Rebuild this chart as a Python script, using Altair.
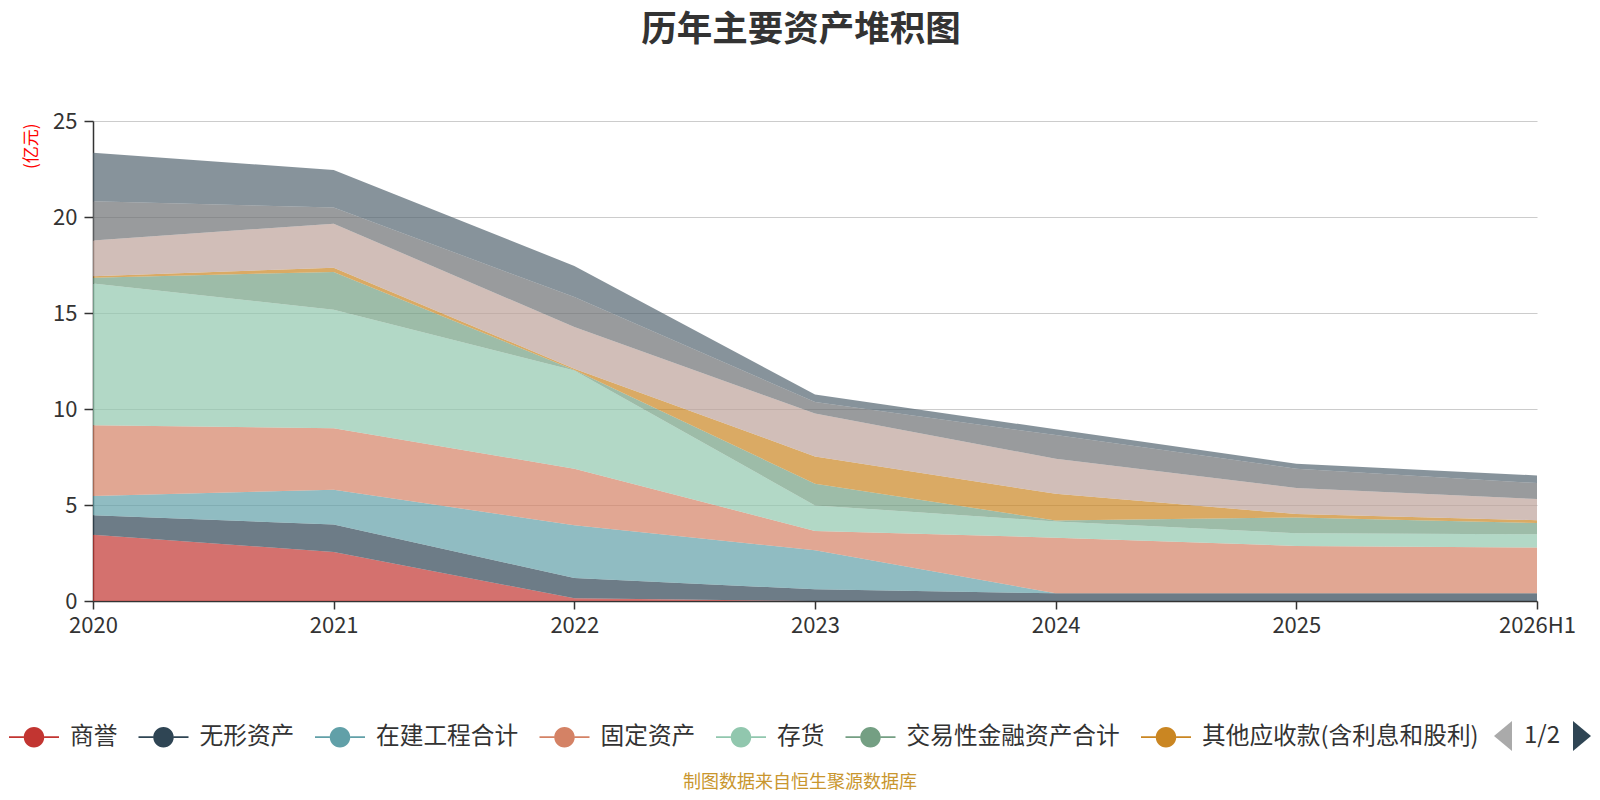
import altair as alt
import pandas as pd

periods = ["2020", "2021", "2022", "2023", "2024", "2025", "2026H1"]
names = ["商誉", "无形资产", "在建工程合计", "固定资产", "存货", "交易性金融资产合计",
         "其他应收款(含利息和股利)", "预付款项", "应收票据及应收账款", "货币资金"]
colors = ["#c23531", "#2f4554", "#61a0a8", "#d48265", "#91c7ae", "#749f83",
          "#ca8622", "#bda29a", "#6e7074", "#546570"]

goodwill      = [3.45, 2.55, 0.14, 0.00, 0.00, 0.00, 0.00]
intangible    = [1.01, 1.43, 1.06, 0.61, 0.40, 0.40, 0.40]
construction  = [1.01, 1.82, 2.74, 2.03, 0.00, 0.00, 0.00]
fixed_assets  = [3.68, 3.20, 2.95, 1.01, 2.90, 2.47, 2.38]
inventory     = [7.38, 6.17, 5.11, 1.33, 0.84, 0.66, 0.70]
trading_fin   = [0.31, 1.97, 0.03, 1.13, 0.05, 0.82, 0.58]
other_recv    = [0.07, 0.22, 0.07, 1.42, 1.39, 0.18, 0.15]
prepayments   = [1.87, 2.29, 2.17, 2.23, 1.83, 1.36, 1.10]
receivables   = [2.04, 0.84, 1.56, 0.60, 1.23, 1.00, 0.83]
cash          = [2.53, 1.96, 1.62, 0.39, 0.30, 0.26, 0.40]

series = [goodwill, intangible, construction, fixed_assets, inventory,
          trading_fin, other_recv, prepayments, receivables, cash]

rows = []
for i, (n, vals) in enumerate(zip(names, series)):
    for p, v in zip(periods, vals):
        rows.append({"period": p, "name": n, "value": v, "idx": i})
df = pd.DataFrame(rows)

FONT = "Noto Sans CJK SC"
legend_sym = ("M-1,-0.035H-0.41V0.035H-1Z M0.41,-0.035H1V0.035H0.41Z "
              "M0.41,0A0.41,0.41,0,1,1,-0.41,0A0.41,0.41,0,1,1,0.41,0Z")

areas = alt.Chart(df).mark_area(opacity=0.7).encode(
    x=alt.X("period:N", sort=periods, scale=alt.Scale(type="point", padding=0),
            axis=alt.Axis(title=None, labelAngle=0, labelFontSize=22, labelColor="#333",
                          labelFont=FONT, labelPadding=6, tickSize=8, tickColor="#333",
                          domainColor="#333", domainWidth=1.5, tickWidth=1.5, grid=False)),
    y=alt.Y("value:Q", stack="zero", scale=alt.Scale(domain=[0, 25]),
            axis=alt.Axis(values=[0, 5, 10, 15, 20, 25], title="(亿元)", titleColor="#ff0000",
                          titleFontSize=17, titleFont=FONT, titleFontWeight="normal",
                          titleAngle=270, titleAlign="right", titleBaseline="middle",
                          titleX=-62, titleY=2,
                          labelFontSize=22, labelColor="#333", labelFont=FONT,
                          labelPadding=7, tickSize=9, tickColor="#333", tickWidth=1.5,
                          domainColor="#333", domainWidth=1.5,
                          grid=True, gridColor="#cccccc", gridWidth=1.2)),
    color=alt.Color("name:N", sort=names,
                    scale=alt.Scale(domain=names, range=colors),
                    legend=alt.Legend(orient="none", legendX=-84, legendY=591,
                                      direction="horizontal", columns=7, title=None,
                                      values=names[:7], symbolType=legend_sym,
                                      symbolSize=2500, symbolOpacity=1,
                                      symbolStrokeWidth=0, labelFontSize=23.7,
                                      labelFont=FONT, labelColor="#333", labelOffset=11,
                                      columnPadding=20.5, padding=0, labelLimit=400)),
    order=alt.Order("idx:Q", sort="ascending"),
)

one = pd.DataFrame({"t": ["1/2"]})

title = alt.Chart(pd.DataFrame({"t": ["历年主要资产堆积图"]})).mark_text(
    font=FONT, fontSize=35.5, fontWeight="bold", color="#333", align="center",
    baseline="middle").encode(text="t:N", x=alt.value(708), y=alt.value(-91.5))

footer = alt.Chart(pd.DataFrame({"t": ["制图数据来自恒生聚源数据库"]})).mark_text(
    font=FONT, fontSize=18, color="#c9962e", align="center",
    baseline="middle").encode(text="t:N", x=alt.value(707), y=alt.value(662))

pager_text = alt.Chart(one).mark_text(
    font=FONT, fontSize=24, color="#333", align="center", baseline="middle"
).encode(text="t:N", x=alt.value(1449), y=alt.value(615))

tri_left = alt.Chart(one).mark_point(
    shape="M0.6,-1L-0.6,0L0.6,1Z", filled=True, size=900, color="#aaaaaa", opacity=1
).encode(x=alt.value(1410), y=alt.value(615))

tri_right = alt.Chart(one).mark_point(
    shape="M-0.6,-1L0.6,0L-0.6,1Z", filled=True, size=900, color="#2f4554", opacity=1
).encode(x=alt.value(1489), y=alt.value(615))

chart = alt.layer(areas, title, footer, pager_text, tri_left, tri_right).properties(
    width=1444, height=480,
    autosize=alt.AutoSizeParams(type="none"),
    padding={"left": 85, "top": 113, "right": 55, "bottom": 191},
).configure_view(stroke=None)

chart.save("out.html", embed_options={"renderer": "svg", "actions": False})
